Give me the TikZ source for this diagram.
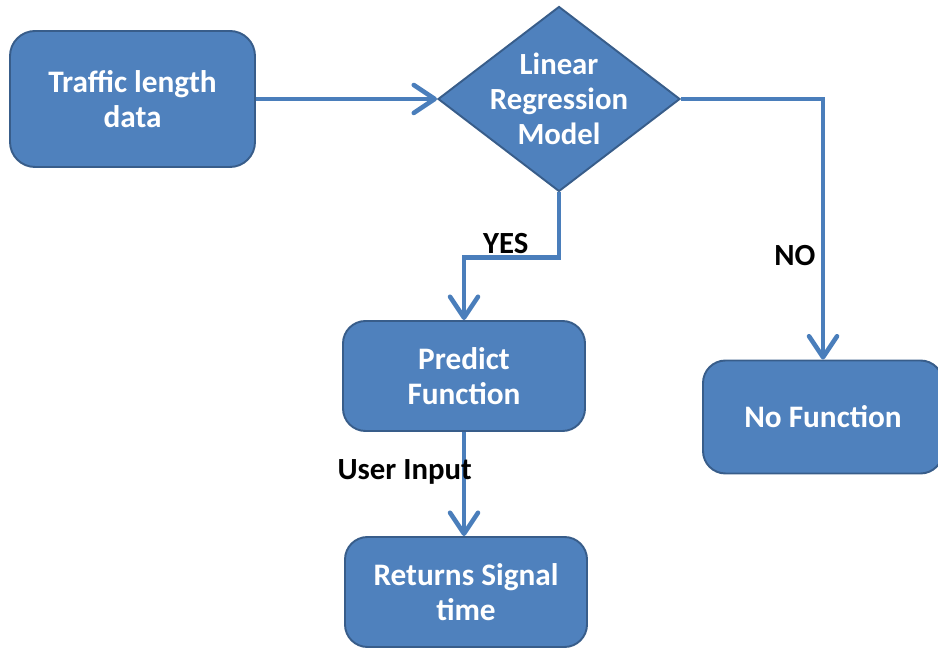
\documentclass[tikz,border=0pt]{standalone}
\usepackage{fontspec}
\setmainfont{Carlito}
\usetikzlibrary{shapes.geometric,arrows.meta}
\definecolor{cajaazul}{HTML}{4F81BD}
\definecolor{bordeazul}{HTML}{385D8A}
\definecolor{lineaazul}{HTML}{4A7EBB}

\begin{document}
\begin{tikzpicture}[
    caja/.style={rectangle, rounded corners=0.45cm, fill=cajaazul, draw=bordeazul, line width=1.1pt, text=white, font=\fontsize{17.8}{20}\selectfont\bfseries, align=center, minimum width=4.84cm, minimum height=2.2cm},
    rombo/.style={diamond, fill=cajaazul, draw=bordeazul, line width=1.1pt, minimum width=4.84cm, minimum height=3.7cm, inner sep=0pt},
    flecha/.style={lineaazul, line width=2.6pt, -{Straight Barb[length=4.2mm,width=5.6mm,round]}},
    etiqueta/.style={text=black, font=\fontsize{17.5}{20}\selectfont\bfseries, inner sep=2pt}
]
    \useasboundingbox (0,0) rectangle (18.76,12.96);

    % Cajas
    \node[caja, minimum width=4.9cm, minimum height=2.72cm, rounded corners=0.5cm] (datos) at (2.65,10.98) {Traffic length\\data};
    \node[rombo, label={[etiqueta, text=white, align=center]center:Linear\\Regression\\Model}] (modelo) at (11.18,10.98) {};
    \node[caja] (prediccion) at (9.28,5.44) {Predict\\Function};
    \node[caja] (senal) at (9.32,1.12) {Returns Signal\\time};
    \node[caja, minimum width=4.8cm, minimum height=2.26cm] (nofuncion) at (16.46,4.62) {No Function};

    % Flechas
    \draw[flecha] (datos.east) -- (modelo.west);
    % YES
    \draw[flecha] (modelo.south) -- ++(0,-1.3) -| (prediccion.north) node[etiqueta, pos=0.28, anchor=south, inner sep=1pt]{YES};
    % NO
    \draw[flecha] (modelo.east) -| (nofuncion.north) node[etiqueta, pos=0.8, anchor=east, inner sep=3pt]{NO};
    % Entrada del usuario
    \draw[flecha] (prediccion.south) -- (prediccion.south |- senal.north) node[etiqueta, pos=0.38, anchor=east, xshift=0.2cm, inner sep=0pt]{User Input};
\end{tikzpicture}
\end{document}
